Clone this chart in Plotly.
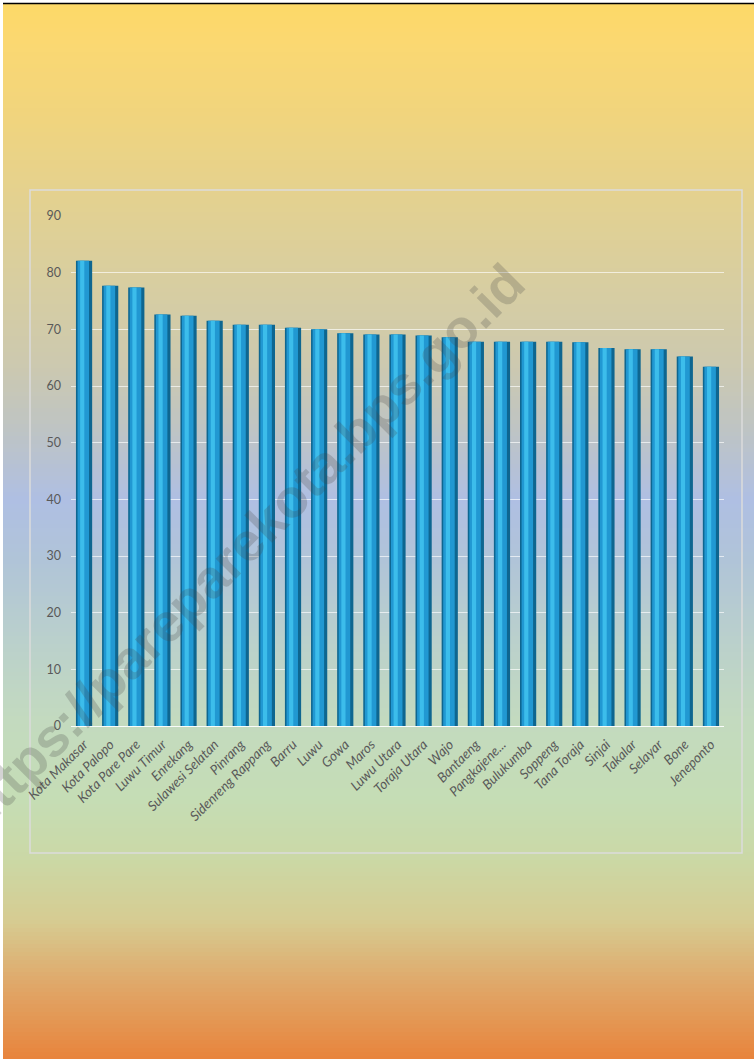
import plotly.graph_objects as go

categories = ["Kota Makasar", "Kota Palopo", "Kota Pare Pare", "Luwu Timur", "Enrekang",
              "Sulawesi Selatan", "Pinrang", "Sidenreng Rappang", "Barru", "Luwu", "Gowa",
              "Maros", "Luwu Utara", "Toraja Utara", "Wajo", "Bantaeng", "Pangkajene...",
              "Bulukumba", "Soppeng", "Tana Toraja", "Sinjai", "Takalar", "Selayar", "Bone",
              "Jeneponto"]
values = [82.1, 77.7, 77.4, 72.6, 72.4, 71.5, 70.8, 70.8, 70.3, 70.0, 69.3, 69.1, 69.1,
          68.9, 68.6, 67.8, 67.8, 67.8, 67.8, 67.7, 66.7, 66.5, 66.5, 65.2, 63.4]
y_ticks = [0, 10, 20, 30, 40, 50, 60, 70, 80, 90]

W, H = 754, 1059
ML, MR, MT, MB = 71, 30, 216, 333
PW = W - ML - MR
PH = H - MT - MB


def px_x(x):
    return (x - ML) / PW


def px_y(y):
    return (H - MB - y) / PH


# background gradient stops (pixel y, colour)
stops = [(0, "#FDD966"), (40, "#FBD871"), (120, "#F0D47E"), (200, "#E3D190"),
         (280, "#D8CEA0"), (360, "#CDC9AE"), (430, "#BEC4C4"), (500, "#AFBFE3"),
         (560, "#B0C4D8"), (640, "#BAD0CC"), (720, "#C3DABF"), (800, "#C5DDB5"),
         (860, "#CBD8A5"), (920, "#D6CC92"), (980, "#DFAA6C"), (1059, "#E8843C")]


def hex2rgb(h):
    h = h.lstrip("#")
    return tuple(int(h[i:i + 2], 16) for i in (0, 2, 4))


def colour_at(y):
    for (y0, c0), (y1, c1) in zip(stops[:-1], stops[1:]):
        if y0 <= y <= y1:
            t = (y - y0) / (y1 - y0)
            a, b = hex2rgb(c0), hex2rgb(c1)
            return "rgb(%d,%d,%d)" % tuple(round(a[i] + (b[i] - a[i]) * t) for i in range(3))
    return stops[-1][1]


shapes = []
step = 4
for y in range(0, H, step):
    shapes.append(dict(type="rect", xref="paper", yref="paper", layer="below",
                       x0=px_x(-2), x1=px_x(W + 2), y0=px_y(y + step + 0.6), y1=px_y(y),
                       fillcolor=colour_at(y + step / 2), line=dict(width=0)))
# white left strip and top black rule
shapes.append(dict(type="rect", xref="paper", yref="paper", layer="below",
                   x0=px_x(-2), x1=px_x(3), y0=px_y(H + 2), y1=px_y(-2),
                   fillcolor="white", line=dict(width=0)))
shapes.append(dict(type="rect", xref="paper", yref="paper", layer="below",
                   x0=px_x(-2), x1=px_x(W + 2), y0=px_y(3), y1=px_y(-2),
                   fillcolor="white", line=dict(width=0)))
shapes.append(dict(type="line", xref="paper", yref="paper", layer="below",
                   x0=px_x(3), x1=px_x(W + 2), y0=px_y(3.5), y1=px_y(3.5),
                   line=dict(color="black", width=1.5)))
# chart border
shapes.append(dict(type="rect", xref="paper", yref="paper", layer="below",
                   x0=px_x(30), x1=px_x(742), y0=px_y(853), y1=px_y(190),
                   fillcolor="rgba(0,0,0,0)", line=dict(color="#DCDCDC", width=1.5)))

fig = go.Figure()
fig.add_trace(go.Bar(x=categories, y=values, width=0.62, marker=dict(color="#0E6690", line=dict(width=0)),
                     hoverinfo="skip"))
fig.add_trace(go.Bar(x=categories, y=values, width=0.44, offset=-0.25,
                     marker=dict(color="#2198D2", line=dict(width=0)), hoverinfo="skip"))
fig.add_trace(go.Bar(x=categories, y=values, width=0.16, offset=-0.15,
                     marker=dict(color="#3CBDEB", line=dict(width=0)), hoverinfo="skip"))

fig.add_annotation(text="<b>https://pareparekota.bps.go.id</b>", xref="paper", yref="paper",
                   x=px_x(241), y=px_y(547), xanchor="center", yanchor="middle",
                   textangle=-45, showarrow=False,
                   font=dict(family="Liberation Sans, Arial", size=54, color="rgba(70,70,70,0.24)"))

fig.update_layout(
    width=W, height=H,
    margin=dict(l=ML, r=MR, t=MT, b=MB, pad=0),
    paper_bgcolor="white",
    plot_bgcolor="rgba(0,0,0,0)",
    barmode="overlay",
    showlegend=False,
    shapes=shapes,
    xaxis=dict(tickangle=-45, tickfont=dict(family="Lato, Liberation Sans", size=13.5, color="#595959",
                                            style="italic"),
               showgrid=False, showline=False, ticks="", range=[-0.5, 24.5], ticklabelstandoff=7),
    yaxis=dict(range=[0, 90], tickvals=y_ticks, showgrid=True, gridcolor="rgba(255,255,255,0.65)",
               gridwidth=1, zeroline=True, zerolinecolor="rgba(255,255,255,0.9)", zerolinewidth=1,
               tickfont=dict(family="Lato, Liberation Sans", size=12.5, color="#595959"),
               ticks="", ticklabelstandoff=9),
)

fig.write_html("out.html", config={"displayModeBar": False},
               post_script="document.body.style.margin='0';document.body.style.padding='0';")
